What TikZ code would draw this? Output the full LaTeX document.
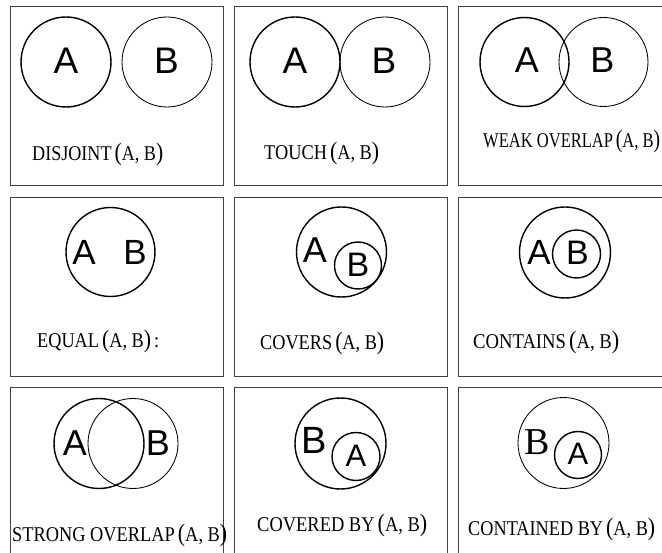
\documentclass[tikz,border=0pt]{standalone}
\usepackage{fontspec}
\setmainfont{Liberation Serif}
\newfontfamily\arialf{Liberation Sans}
\newcommand{\bigp}[1]{{\fontsize{25}{25}\selectfont #1}}
\newcommand{\rel}[2]{\resizebox{#1pt}{\height}{#2\,\bigp{(}A, B\bigp{)}}}
\begin{document}
\begin{tikzpicture}[x=1pt,y=-1pt,
  panel/.style={draw=black!75, line width=0.9pt},
  thk/.style={draw=black, line width=1.4pt},
  thn/.style={draw=black, line width=0.85pt},
  letter/.style={inner sep=0pt, font=\arialf\fontsize{#1}{#1}\selectfont},
  sletter/.style={inner sep=0pt, font=\fontsize{#1}{#1}\selectfont},
  lbl/.style={anchor=base west, inner sep=0pt, font=\fontsize{21}{21}\selectfont}]
\useasboundingbox (0,0) rectangle (662,553);
% panels
\draw[panel] (10,6) rectangle (223,185);
\draw[panel] (234,6) rectangle (447,185);
\draw[panel] (458,6) rectangle (672,185);
\draw[panel] (10,197) rectangle (223,376);
\draw[panel] (234,197) rectangle (447,376);
\draw[panel] (458,197) rectangle (672,376);
\draw[panel] (10,387) rectangle (223,566);
\draw[panel] (234,387) rectangle (447,566);
\draw[panel] (458,387) rectangle (672,566);
% 1 disjoint
\draw[thk] (66,62) circle[radius=45pt];
\draw[thn] (167,62) circle[radius=45pt];
\node[letter=37] (a1) at (66,61) {A};
\node[letter=37] (b1) at (166.5,61) {B};
\node[lbl] (l1) at (32,161) {\rel{131}{DISJOINT}};
% 2 touch
\draw[thk] (295,62) circle[radius=45pt];
\draw[thn] (385,62) circle[radius=45pt];
\node[letter=37] (a2) at (295,61) {A};
\node[letter=37] (b2) at (384,61) {B};
\node[lbl] (l2) at (264,160) {\rel{115}{TOUCH}};
% 3 weak overlap
\draw[thk] (524.5,62) circle[radius=44.5pt];
\draw[thn] (603.5,62) circle[radius=44.5pt];
\node[letter=36] (a3) at (527,60.5) {A};
\node[letter=36] (b3) at (602.5,60) {B};
\node[lbl] (l3) at (483,148) {\rel{177}{WEAK OVERLAP}};
% 4 equal
\draw[thk] (110.5,252) circle[radius=44.5pt];
\node[letter=35] (a4) at (84,252) {A};
\node[letter=35] (b4) at (135,252) {B};
\node[lbl] (l4) at (37,348) {\resizebox{122pt}{\height}{EQUAL\,\bigp{(}A, B\bigp{)}\,:}};
% 5 covers
\draw[thk] (341.5,252) circle[radius=45pt];
\draw[thk] (358,265.5) circle[radius=23.5pt];
\node[letter=36] (a5) at (315,250) {A};
\node[letter=34] (b5) at (358,265) {B};
\node[lbl] (l5) at (260,350) {\rel{124}{COVERS}};
% 6 contains
\draw[thk] (565,252.5) circle[radius=45.5pt];
\draw[thk] (576.5,254) circle[radius=24pt];
\node[letter=35] (a6) at (539,252) {A};
\node[letter=34] (b6) at (577.5,252.5) {B};
\node[lbl] (l6) at (473,349) {\rel{146}{CONTAINS}};
% 7 strong overlap
\draw[thk] (99,443.5) circle[radius=45pt];
\draw[thn] (133,443.5) circle[radius=45pt];
\node[letter=36] (a7) at (75,443) {A};
\node[letter=36] (b7) at (158,443) {B};
\node[lbl] (l7) at (12,542) {\rel{215}{STRONG OVERLAP}};
% 8 covered by
\draw[thk] (340.5,443.5) circle[radius=45.5pt];
\draw[thk] (356,456.5) circle[radius=24pt];
\node[letter=38] (b8) at (314,440) {B};
\node[letter=31] (a8) at (356,456) {A};
\node[lbl] (l8) at (257,532) {\rel{170}{COVERED BY}};
% 9 contained by
\draw[thn] (563.5,443) circle[radius=45.5pt];
\draw[thk] (578,455) circle[radius=23.5pt];
\node[sletter=38] (b9) at (537,442) {B};
\node[letter=31] (a9) at (578,454) {A};
\node[lbl] (l9) at (468,536) {\rel{187}{CONTAINED BY}};
\end{tikzpicture}
\end{document}
